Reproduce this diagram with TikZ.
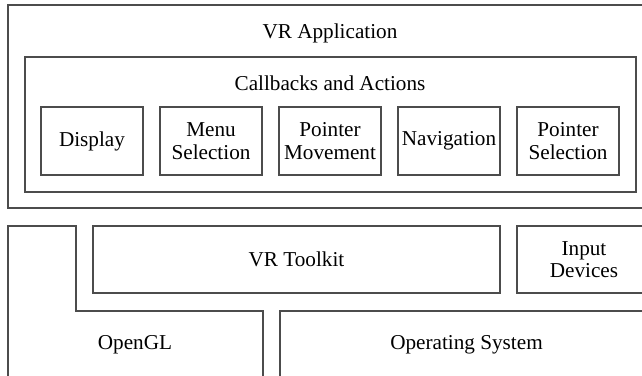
\documentclass[tikz,border=0pt]{standalone}
\usepackage{fontspec}
\setmainfont{Liberation Serif}
\usetikzlibrary{positioning}

\tikzset{
  layer/.style={draw=black!70, line width=0.6pt, inner sep=0, outer sep=0},
  action/.style={layer, minimum width=51pt, minimum height=34pt, align=center},
  lbl/.style={inner sep=0, outer sep=0, align=center}
}

\begin{document}
\begin{tikzpicture}[x=0.5pt,y=-0.5pt,font=\fontsize{10.6}{11.3}\selectfont]
  \useasboundingbox (0,0) rectangle (642,375);
  \clip (0,0) rectangle (642,375);

  % application layer
  \node [layer, minimum width=322.5pt, minimum height=101.5pt] (app) at (330.5,106.5) {};
  \node [lbl] (appL) at (330,33) {VR Application};

  \node [layer, minimum width=305.5pt, minimum height=67.5pt] (cb) at (330.5,124.5) {};
  \node [lbl] (cbL) at (330,83) {Callbacks and Actions};

  \node [action] (disp) at (92,141) {Display};
  \node [action, right=8.5pt of disp] (menu) {Menu\\Selection};
  \node [action, right=8.5pt of menu] (pmove) {Pointer\\Movement};
  \node [action, right=8.5pt of pmove] (nav) {Navigation};
  \node [action, right=8.5pt of nav] (psel) {Pointer\\Selection};

  % toolkit and devices
  \node [layer, minimum width=203.5pt, minimum height=33.5pt] (tk) at (296.5,259.5) {VR Toolkit};
  \node [layer, minimum width=67pt, minimum height=33.5pt, align=center] (inp) at (584,259.5) {Input\\Devices};

  % system layer
  \draw [draw=black!70, line width=0.6pt] (8,379) -- (8,226) -- (76,226) -- (76,311) -- (263,311) -- (263,379);
  \node [lbl] (gl) at (135,345) {OpenGL};
  \node [layer, minimum width=186.5pt, minimum height=34pt] (os) at (466.5,345) {Operating System};
\end{tikzpicture}
\end{document}
